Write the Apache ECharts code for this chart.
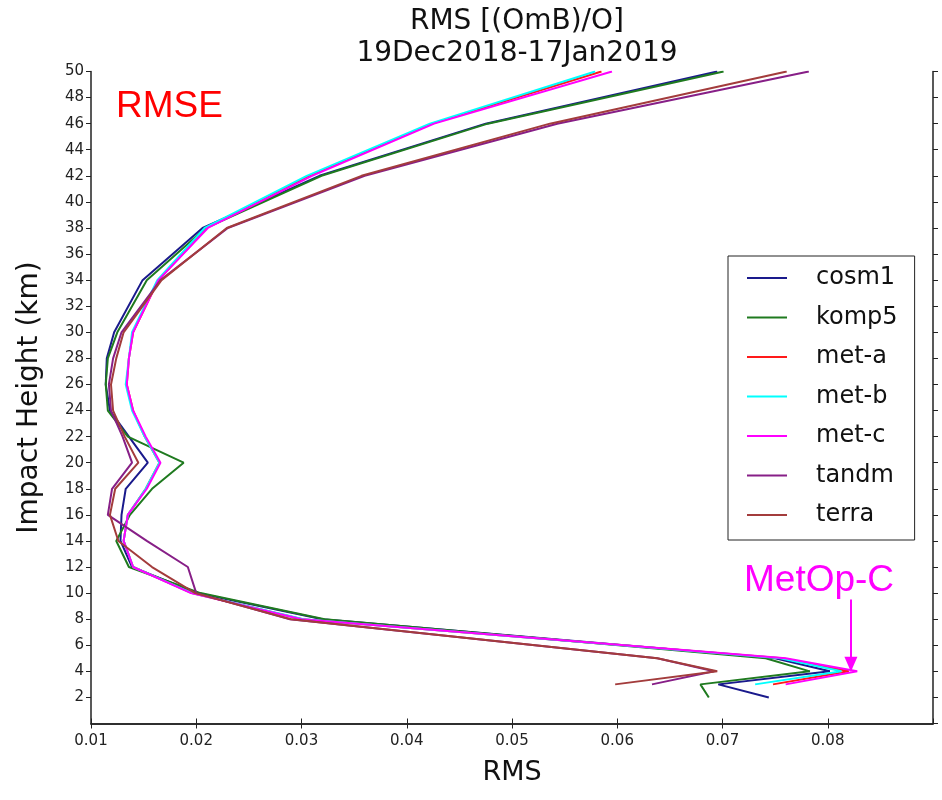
<!DOCTYPE html>
<html>
<head>
<meta charset="utf-8">
<title>RMS [(OmB)/O]</title>
<script src="https://cdn.jsdelivr.net/npm/echarts@6/dist/echarts.min.js"></script>
<style>
  html, body { margin: 0; padding: 0; background: #fff; }
  #chart { width: 942px; height: 800px; }
</style>
</head>
<body>
<div id="chart"></div>
<script>
// impact heights (km) where each profile has a vertex
const heights = [50, 46, 42, 38, 34, 30, 28, 26, 24, 22, 20, 18, 16, 14, 12, 10, 8, 5, 4, 3, 2]

// RMS values per mission (top to bottom)
const cosm1 = [0.0695, 0.0475, 0.0317, 0.0206, 0.0149, 0.0122, 0.0115, 0.0114, 0.0118, 0.0136, 0.0154, 0.0133, 0.0129, 0.0128, 0.0139, 0.0201, 0.0320, 0.0750, 0.0802, 0.0696, 0.0744]
const komp5 = [0.0701, 0.0477, 0.0319, 0.0209, 0.0153, 0.0125, 0.0116, 0.0114, 0.0116, 0.0135, 0.0188, 0.0158, 0.0137, 0.0124, 0.0136, 0.0204, 0.0322, 0.0741, 0.0783, 0.0679, 0.0687]
const metA = [0.0585, 0.0424, 0.0307, 0.0210, 0.0164, 0.0140, 0.0136, 0.0134, 0.0140, 0.0151, 0.0165, 0.0152, 0.0135, 0.0131, 0.0140, 0.0196, 0.0301, 0.0757, 0.0820, 0.0748]
const metB = [0.0579, 0.0422, 0.0305, 0.0208, 0.0163, 0.0139, 0.0136, 0.0133, 0.0139, 0.0151, 0.0165, 0.0152, 0.0135, 0.0131, 0.0140, 0.0196, 0.0302, 0.0755, 0.0813, 0.0731]
const metC = [0.0595, 0.0426, 0.0310, 0.0211, 0.0164, 0.0140, 0.0136, 0.0134, 0.0140, 0.0152, 0.0166, 0.0153, 0.0135, 0.0131, 0.0140, 0.0195, 0.0300, 0.0760, 0.0828, 0.0760]
const tandm = [0.0782, 0.0543, 0.0360, 0.0230, 0.0166, 0.0129, 0.0121, 0.0117, 0.0119, 0.0130, 0.0139, 0.0120, 0.0116, 0.0153, 0.0192, 0.0200, 0.0289, 0.0638, 0.0692, 0.0633]
const terra = [0.0761, 0.0536, 0.0357, 0.0229, 0.0167, 0.0131, 0.0124, 0.0119, 0.0121, 0.0132, 0.0145, 0.0123, 0.0118, 0.0126, 0.0158, 0.0199, 0.0290, 0.0638, 0.0695, 0.0598]

const names = ['cosm1', 'komp5', 'met-a', 'met-b', 'met-c', 'tandm', 'terra']
const profiles = [cosm1, komp5, metA, metB, metC, tandm, terra]
const colors = ['#1a1a8c', '#1f7a1f', '#ff1a1a', '#00ffff', '#ff00ff', '#871f87', '#a33c3c']

const xTicks = [0.01, 0.09, 0.01] // min, max, step
const yTicks = [0, 50, 2]

const chart = echarts.init(document.getElementById('chart'))

const font = 'DejaVu Sans'
const axisLine = { show: true, lineStyle: { color: '#222', width: 1.5 } }
const axisTick = { show: true, inside: false, length: 5, lineStyle: { color: '#222', width: 1 } }

const series = profiles.map((vals, i) => ({
  name: names[i],
  type: 'line',
  symbol: 'none',
  animation: false,
  lineStyle: { width: 2, color: colors[i] },
  itemStyle: { color: colors[i] },
  data: vals.map((v, k) => [v, heights[k]])
}))

// MetOp-C arrow
series[4].markLine = {
  silent: true,
  symbol: ['none', 'triangle'],
  symbolSize: [13, 15],
  lineStyle: { color: '#ff00ff', width: 2, type: 'solid' },
  label: { show: false },
  data: [[{ coord: [0.0822, 9.5] }, { coord: [0.0822, 4.55] }]]
}

const option = {
  backgroundColor: '#fff',
  animation: false,
  title: {
    text: 'RMS [(OmB)/O]\n19Dec2018-17Jan2019',
    left: 512,
    top: 1,
    textAlign: 'center',
    textStyle: { fontFamily: font, fontSize: 28, fontWeight: 'normal', color: '#111', lineHeight: 32 }
  },
  grid: { left: 91, right: 9, top: 71.5, bottom: 76.5, containLabel: false },
  legend: {
    orient: 'vertical',
    left: 728,
    top: 256,
    data: names,
    icon: 'rect',
    itemWidth: 40,
    itemHeight: 2,
    itemGap: 13.5,
    padding: [9, 17, 12, 19],
    borderColor: '#222',
    borderWidth: 1,
    backgroundColor: '#fff',
    textStyle: { fontFamily: font, fontSize: 24, color: '#111', lineHeight: 26, padding: [0, 0, 0, 24] }
  },
  xAxis: [
    {
      type: 'value',
      min: xTicks[0], max: xTicks[1], interval: xTicks[2],
      name: 'RMS',
      nameLocation: 'middle',
      nameGap: 36,
      nameTextStyle: { fontFamily: font, fontSize: 27, color: '#111' },
      axisLine, axisTick,
      splitLine: { show: false },
      axisLabel: { fontFamily: font, fontSize: 15, color: '#222', margin: 10, showMaxLabel: false,
        formatter: v => v.toFixed(2) }
    },
    {
      type: 'value', position: 'top',
      min: xTicks[0], max: xTicks[1], interval: xTicks[2],
      axisLine, axisTick,
      splitLine: { show: false },
      axisLabel: { show: false }
    }
  ],
  yAxis: [
    {
      type: 'value',
      min: yTicks[0], max: yTicks[1], interval: yTicks[2],
      name: 'Impact Height (km)',
      nameLocation: 'middle',
      nameGap: 47,
      nameTextStyle: { fontFamily: font, fontSize: 28, color: '#111' },
      axisLine, axisTick,
      splitLine: { show: false },
      axisLabel: { fontFamily: font, fontSize: 15, color: '#222', margin: 7, showMinLabel: false }
    },
    {
      type: 'value', position: 'right',
      min: yTicks[0], max: yTicks[1], interval: yTicks[2],
      axisLine, axisTick,
      splitLine: { show: false },
      axisLabel: { show: false }
    }
  ],
  graphic: [
    {
      type: 'text', left: 116, top: 88,
      style: { text: 'RMSE', fill: '#ff0000', font: '37px "Liberation Sans", Arial, sans-serif' }
    },
    {
      type: 'text', left: 744, top: 562,
      style: { text: 'MetOp-C', fill: '#ff00ff', font: '37px "Liberation Sans", Arial, sans-serif' }
    }
  ],
  series
}

chart.setOption(option)

window.addEventListener('resize', () => {
  chart.resize()
})
</script>
</body>
</html>
